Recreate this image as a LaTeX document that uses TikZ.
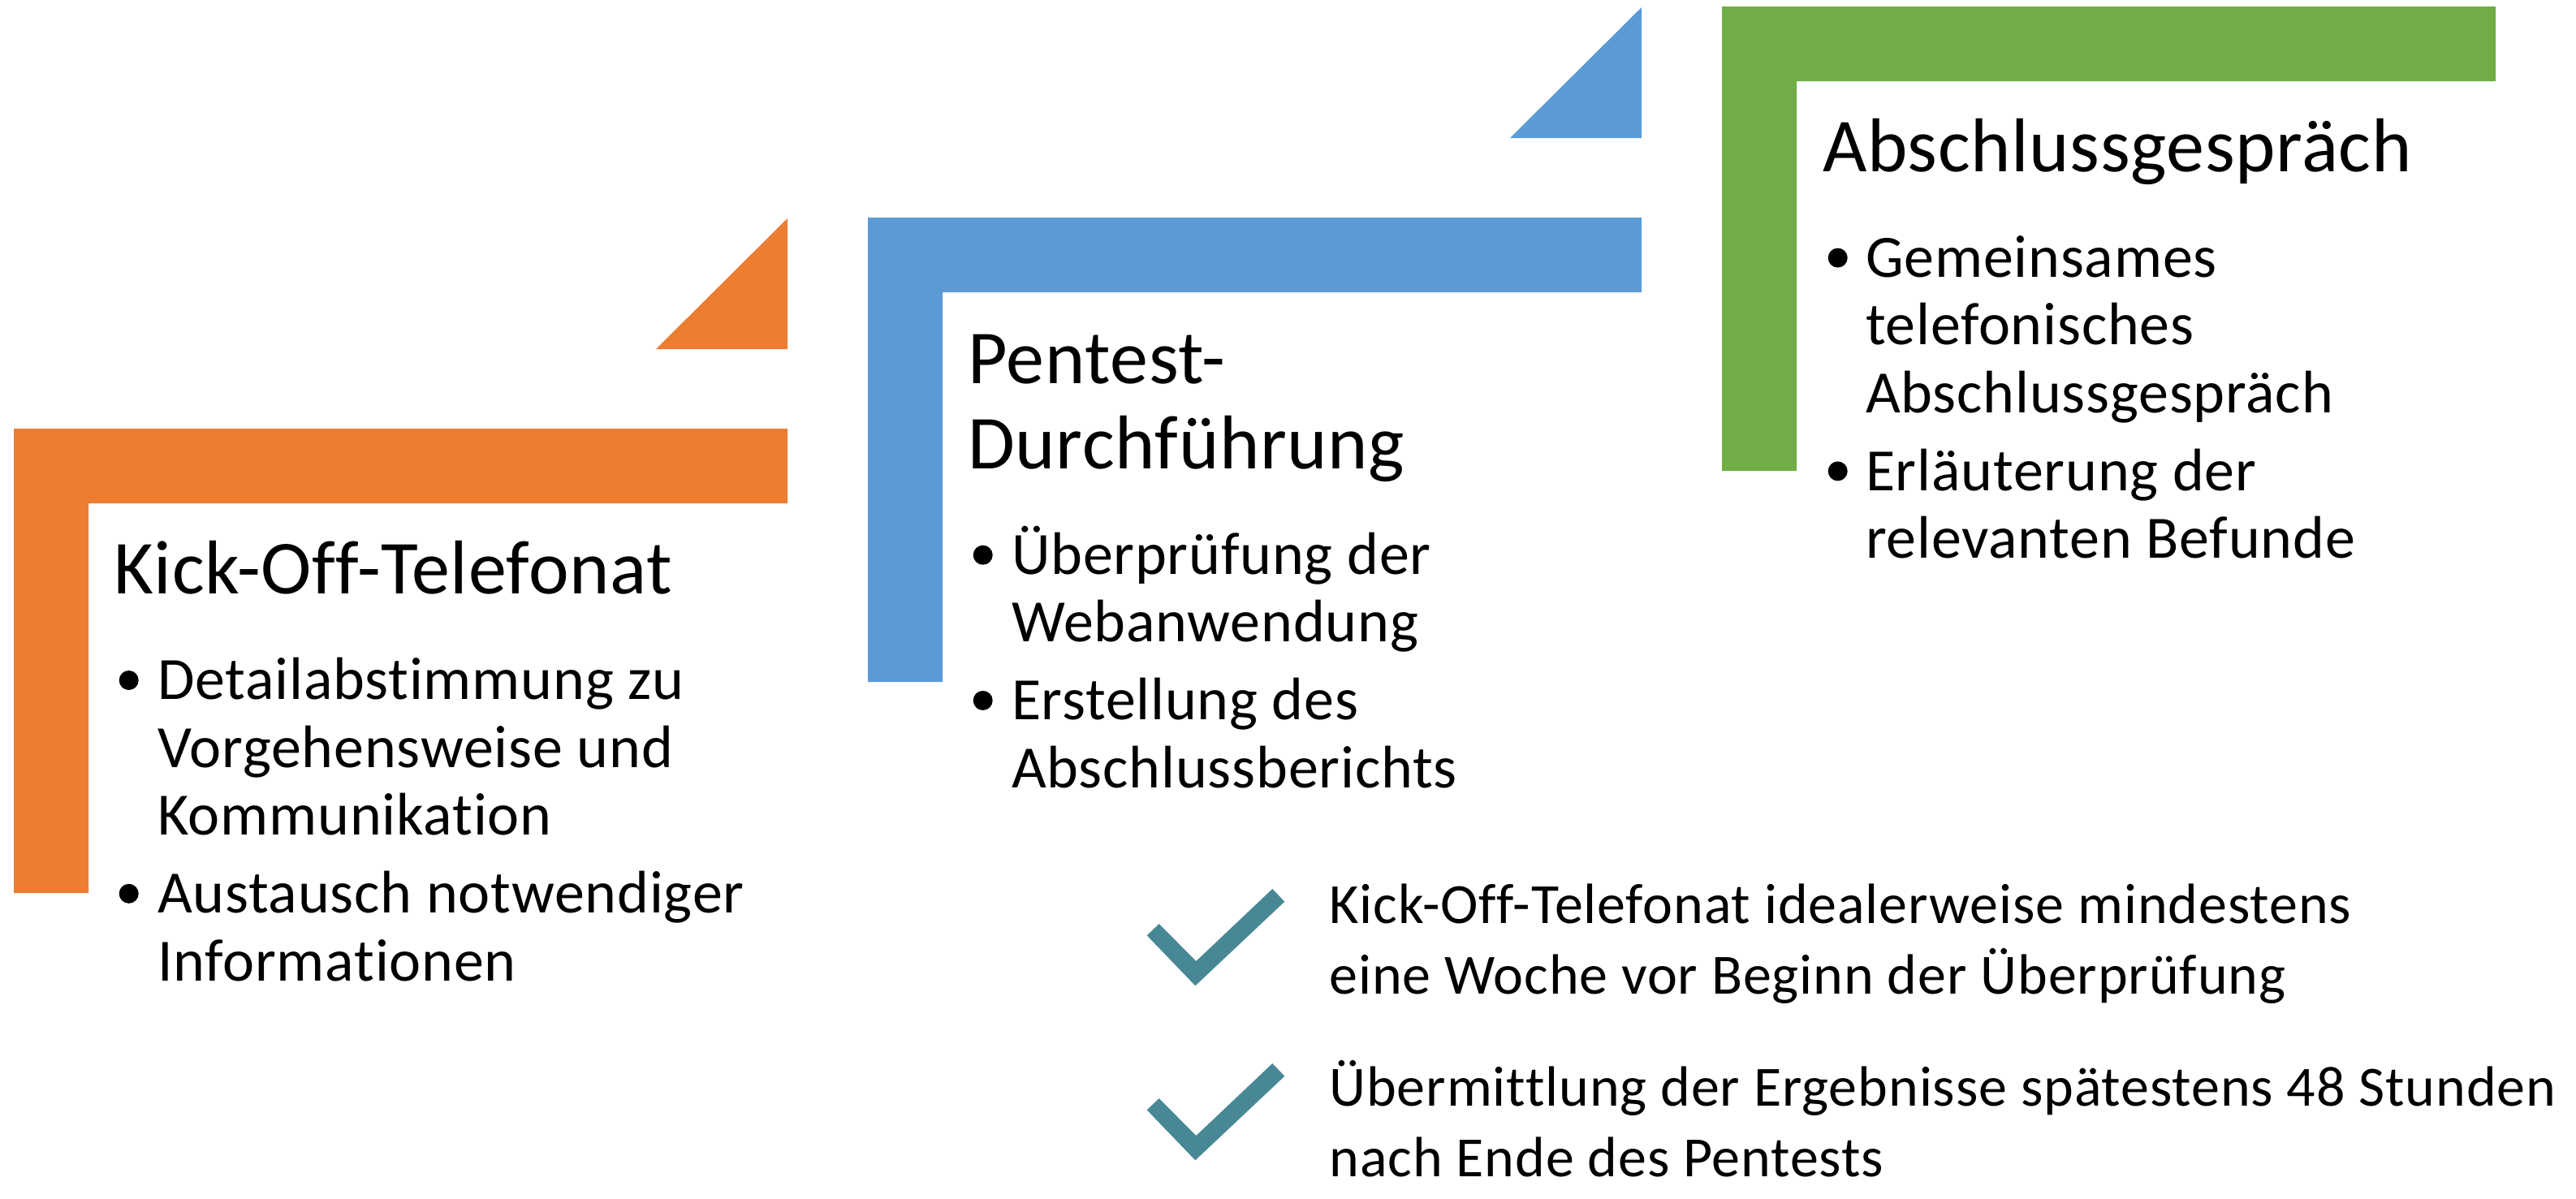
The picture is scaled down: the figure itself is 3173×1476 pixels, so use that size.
\documentclass[tikz,border=0pt]{standalone}
\usepackage{fontspec}
\setmainfont{Carlito}[Ligatures={NoCommon}]
\definecolor{korange}{HTML}{ED7D31}
\definecolor{kblue}{HTML}{5B9BD5}
\definecolor{kgreen}{HTML}{70AD47}
\definecolor{kteal}{HTML}{488896}
\tikzset{
  ttl/.style={anchor=base west, inner sep=0pt, outer sep=0pt, font=\fontsize{94}{105}\selectfont\addfontfeature{LetterSpace=0.7}},
  bod/.style={anchor=base west, inner sep=0pt, outer sep=0pt, font=\fontsize{74}{84}\selectfont\addfontfeature{LetterSpace=1.1}},
  note/.style={anchor=base west, inner sep=0pt, outer sep=0pt, font=\fontsize{70}{86}\selectfont\addfontfeature{LetterSpace=1.3}},
  bul/.style={circle, fill=black, inner sep=0pt, minimum size=24pt},
}
\begin{document}
\begin{tikzpicture}[x=1pt,y=-1pt]
\useasboundingbox (0,0) rectangle (3173,1476);
% L-shapes
\fill[korange] (17,528) -- (970,528) -- (970,620) -- (109,620) -- (109,1100) -- (17,1100) -- cycle;
\fill[korange] (808,430) -- (970,430) -- (970,269) -- cycle;
\fill[kblue] (1069,268) -- (2022,268) -- (2022,360) -- (1161,360) -- (1161,840) -- (1069,840) -- cycle;
\fill[kblue] (1860,170) -- (2022,170) -- (2022,9) -- cycle;
\fill[kgreen] (2121,8) -- (3074,8) -- (3074,100) -- (2213,100) -- (2213,580) -- (2121,580) -- cycle;
% Orange text
\node[ttl] (ot) at (140.5,731) {Kick-Off-Telefonat};
\node[bul] (ob1) at (158.7,838) {};
\node[bod] (o1a) at (194,861.7) {Detailabstimmung zu};
\node[bod] (o1b) at (194,945.2) {Vorgehensweise und};
\node[bod] (o1c) at (194,1028.7) {Kommunikation};
\node[bul] (ob2) at (158.7,1100.8) {};
\node[bod] (o2a) at (194,1124.5) {Austausch notwendiger};
\node[bod] (o2b) at (194,1208) {Informationen};
% Blue text
\node[ttl] (bt1) at (1192.5,472) {Pentest-};
\node[ttl] (bt2) at (1192.5,577) {Durchführung};
\node[bul] (bb1) at (1210.7,683.7) {};
\node[bod] (b1a) at (1246,707.4) {Überprüfung der};
\node[bod] (b1b) at (1246,790.9) {Webanwendung};
\node[bul] (bb2) at (1210.7,862.9) {};
\node[bod] (b2a) at (1246,886.6) {Erstellung des};
\node[bod] (b2b) at (1246,970) {Abschlussberichts};
% Green text
\node[ttl] (gt) at (2245,211) {Abschlussgespräch};
\node[bul] (gb1) at (2263.7,317.6) {};
\node[bod] (g1a) at (2298,341.3) {Gemeinsames};
\node[bod] (g1b) at (2298,424.8) {telefonisches};
\node[bod] (g1c) at (2298,508.3) {Abschlussgespräch};
\node[bul] (gb2) at (2263.7,580.4) {};
\node[bod] (g2a) at (2298,604.1) {Erläuterung der};
\node[bod] (g2b) at (2298,687.6) {relevanten Befunde};
% Check marks
\fill[kteal] (1412.7,1152.3) -- (1427.7,1138) -- (1473.3,1184) -- (1567.3,1095) -- (1582.3,1110.7) -- (1472.3,1214.3) -- cycle;
\fill[kteal] (1412.7,1367.3) -- (1427.7,1353) -- (1473.3,1399) -- (1567.3,1310) -- (1582.3,1325.7) -- (1472.3,1429.3) -- cycle;
% Notes
\node[note] (n1a) at (1637.5,1137.7) {Kick-Off-Telefonat idealerweise mindestens};
\node[note] (n1b) at (1637.5,1224) {eine Woche vor Beginn der Überprüfung};
\node[note] (n2a) at (1637.5,1362.7) {Übermittlung der Ergebnisse spätestens 48 Stunden};
\node[note] (n2b) at (1637.5,1449) {nach Ende des Pentests};
\end{tikzpicture}
\end{document}
